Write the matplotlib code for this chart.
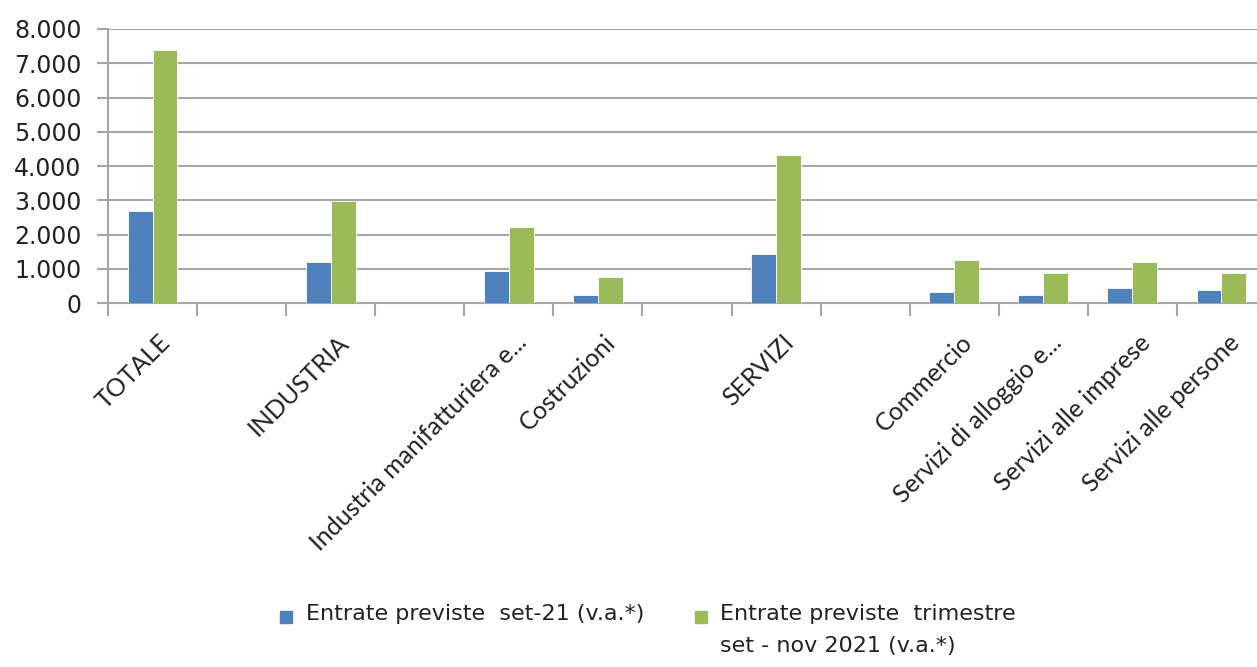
import matplotlib
matplotlib.use("Agg")
import matplotlib.pyplot as plt
import matplotlib.ticker as mticker
import matplotlib.transforms as mtransforms
from matplotlib.patches import Rectangle
import numpy as np

# categories (empty strings are the gaps in the original chart)
categories = ["TOTALE", "", "INDUSTRIA", "", "Industria manifatturiera e...", "Costruzioni",
              "", "SERVIZI", "", "Commercio", "Servizi di alloggio e...",
              "Servizi alle imprese", "Servizi alle persone"]
entrate_set21 = [2690, 0, 1200, 0, 930, 240, 0, 1430, 0, 330, 240, 430, 380]
entrate_trim = [7380, 0, 2990, 0, 2210, 750, 0, 4330, 0, 1255, 880, 1205, 880]
legend_labels = ["Entrate previste  set-21 (v.a.*)",
                 "Entrate previste  trimestre\nset - nov 2021 (v.a.*)"]

BLUE = "#4F81BD"
GREEN = "#9BBB59"
GRID = "#A6A6A6"

fig = plt.figure(figsize=(12.57, 6.67), dpi=100)
ax = fig.add_axes([108 / 1257, 364 / 667, 1158 / 1257, 274 / 667])

x = np.arange(len(categories))
w = 0.28
ax.bar(x - w / 2, entrate_set21, w, color=BLUE, edgecolor="white", linewidth=0.6, zorder=3)
ax.bar(x + w / 2, entrate_trim, w, color=GREEN, edgecolor="white", linewidth=0.6, zorder=3)

ax.set_xlim(-0.5, len(categories) - 0.5)
ax.set_ylim(0, 8000)
ax.yaxis.set_major_locator(mticker.MultipleLocator(1000))
ax.yaxis.set_major_formatter(mticker.FuncFormatter(lambda v, p: f"{int(v):,}".replace(",", ".")))
ax.grid(axis="y", color=GRID, linewidth=1.5, zorder=0)

for s in ["top", "right"]:
    ax.spines[s].set_visible(False)
ax.spines["left"].set_color(GRID)
ax.spines["left"].set_linewidth(1.5)
ax.spines["bottom"].set_color(GRID)
ax.spines["bottom"].set_linewidth(1.5)

ax.tick_params(axis="y", length=8, width=1.5, color=GRID, pad=11, labelsize=17, labelcolor="#222222")
for t in ax.get_yticklabels():
    t.set_family("DejaVu Sans")

# category labels at centres, tick marks at boundaries
ax.set_xticks(x)
ax.set_xticklabels(categories, rotation=45, ha="right", rotation_mode="anchor",
                   fontsize=18, family=["Lato", "DejaVu Sans"], color="#222222")
ax.tick_params(axis="x", which="major", length=0, pad=20)
shift = mtransforms.ScaledTranslation(6 / 100, 0, fig.dpi_scale_trans)
for t in ax.get_xticklabels():
    t.set_transform(t.get_transform() + shift)
ax.set_xticks(np.arange(-0.5, len(categories)), minor=True)
ax.tick_params(axis="x", which="minor", length=9, width=1.5, color=GRID)

# legend drawn by hand so the swatch sits on the first text line
leg_font = ["Liberation Sans Narrow", "DejaVu Sans"]
for (px, tx, lab, col) in [(280, 306, legend_labels[0], BLUE), (695, 720, legend_labels[1], GREEN)]:
    fig.patches.append(Rectangle((px / 1257, 1 - 623 / 667), 12 / 1257, 12 / 667,
                                 transform=fig.transFigure, color=col))
    fig.text(tx / 1257, 1 - 604 / 667, lab, fontsize=16, family=leg_font, color="#222222",
             va="top", ha="left", linespacing=1.75)

fig.savefig("out.png", dpi=100)
